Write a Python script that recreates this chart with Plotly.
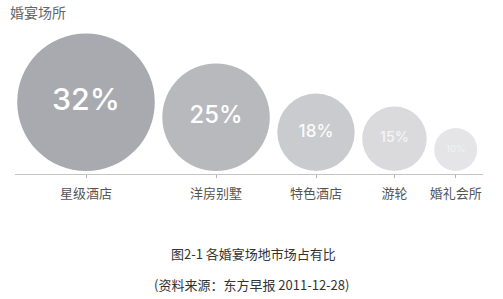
import plotly.graph_objects as go

# Market share of wedding-banquet venue types
categories = ["星级酒店", "洋房别墅", "特色酒店", "游轮", "婚礼会所"]
shares = [32, 25, 18, 15, 10]
share_labels = ["32%", "25%", "18%", "15%", "10%"]
bubble_colors = ["#a8aaaf", "#b8b9bd", "#cacbce", "#dadadd", "#e5e5e7"]
label_colors = ["#ffffff", "#ffffff", "#fbfbfb", "#f4f4f5", "#f0f0f1"]

PX_PER_UNIT = 2.15   # bubble radius in px per percentage point
GAP = 7.5            # horizontal gap between neighbouring bubbles
FIRST_X = 86         # centre of the first bubble
LIFT = 3             # bubbles sit slightly above the axis line

# plot area geometry (pixels)
X0, X1 = 15, 483
AXIS_Y = 174


def paper_x(px):
    return (px - X0) / (X1 - X0)


def paper_y(py):
    return (AXIS_Y - py) / AXIS_Y


radii = [v * PX_PER_UNIT for v in shares]
centers = []
edge = FIRST_X - radii[0] - GAP
for r in radii:
    c = edge + GAP + r
    centers.append(c)
    edge = c + r
heights = [r + LIFT for r in radii]

fig = go.Figure()
fig.add_trace(go.Scatter(
    x=centers,
    y=heights,
    mode="markers+text",
    marker=dict(size=[2 * r for r in radii], sizemode="diameter",
                color=bubble_colors, opacity=1, line=dict(width=0)),
    text=share_labels,
    textposition="middle center",
    textfont=dict(family="Inter", size=[v * 0.95 for v in shares],
                  color=label_colors, weight=500),
    cliponaxis=False,
    hoverinfo="skip",
    showlegend=False,
))

fig.update_layout(
    width=503, height=299,
    margin=dict(l=X0, r=503 - X1, t=0, b=299 - AXIS_Y),
    paper_bgcolor="white", plot_bgcolor="white",
    xaxis=dict(range=[X0, X1], showgrid=False, zeroline=False,
               showline=True, linecolor="#c4c4c4", linewidth=1,
               tickmode="array", tickvals=centers, ticktext=categories,
               ticks="outside", ticklen=3, tickcolor="#b0b0b0",
               ticklabelstandoff=4,
               tickfont=dict(family="Noto Sans CJK SC", size=13, color="#555555"),
               fixedrange=True),
    yaxis=dict(range=[0, AXIS_Y], visible=False, fixedrange=True),
    annotations=[
        dict(text="婚宴场所", x=paper_x(8), y=paper_y(12),
             xref="paper", yref="paper",
             xanchor="left", yanchor="middle", showarrow=False,
             font=dict(family="Noto Sans CJK SC", size=14, color="#666666")),
        dict(text="图2-1 各婚宴场地市场占有比", x=paper_x(253), y=paper_y(253),
             xref="paper", yref="paper", xanchor="center", yanchor="middle",
             showarrow=False,
             font=dict(family="Noto Sans CJK SC", size=13, color="#333333")),
        dict(text="(资料来源：东方早报 2011-12-28)", x=paper_x(251), y=paper_y(284),
             xref="paper", yref="paper", xanchor="center", yanchor="middle",
             showarrow=False,
             font=dict(family="Noto Sans CJK SC", size=13, color="#333333")),
    ],
)

fig.write_html("out.html")
